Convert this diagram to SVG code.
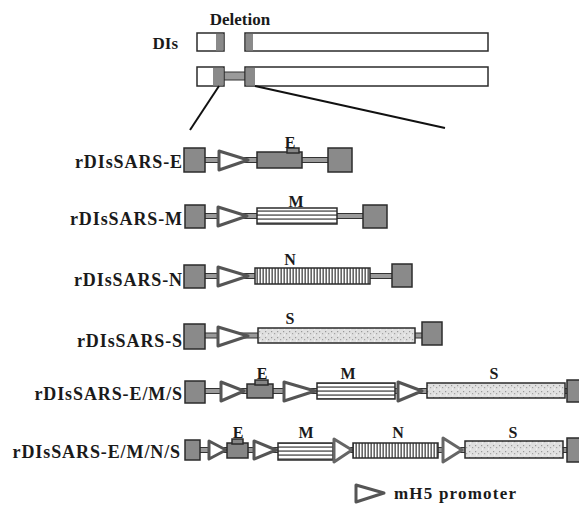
<svg xmlns="http://www.w3.org/2000/svg" width="579" height="514" viewBox="0 0 579 514">
<style>
text{font-family:"Liberation Serif","Times New Roman",serif;font-weight:bold;fill:#1a1a1a}
.lbl{font-size:18px;text-anchor:end;letter-spacing:0.9px}
.gl{font-size:16px;text-anchor:middle}
.dk{fill:#8a8a8a;stroke:#2b2b2b;stroke-width:1.5}
.wh{fill:#fff;stroke:#2b2b2b;stroke-width:1.5}
.ln{fill:#9a9a9a;stroke:#333;stroke-width:1}
.pr{fill:#fff;stroke:#555;stroke-width:3;stroke-linejoin:round}
.mb{fill:url(#hs);stroke:#2b2b2b;stroke-width:1.5}
.nb{fill:url(#vs);stroke:#2b2b2b;stroke-width:1.5}
.sb{fill:url(#sp);stroke:#2b2b2b;stroke-width:1.5}
.eb{fill:#868686;stroke:#2b2b2b;stroke-width:1.5}
</style>
<defs>
<pattern id="hs" width="6" height="4" patternUnits="userSpaceOnUse"><rect width="6" height="4" fill="#fff"/><rect y="2.2" width="6" height="1.8" fill="#7a7a7a"/></pattern>
<pattern id="vs" width="3" height="6" patternUnits="userSpaceOnUse"><rect width="3" height="6" fill="#fff"/><rect x="1.4" width="1.6" height="6" fill="#666"/></pattern>
<pattern id="sp" width="6" height="6" patternUnits="userSpaceOnUse"><rect width="6" height="6" fill="#e0e0e0"/><rect x="1" y="1" width="1.2" height="1.2" fill="#999"/><rect x="4" y="3" width="1.2" height="1.2" fill="#a5a5a5"/><rect x="2" y="4.5" width="1" height="1" fill="#fff"/></pattern>
</defs>

<g id="top">
<text x="240" y="25" style="font-size:17px;text-anchor:middle">Deletion</text>
<text x="178" y="49" style="font-size:17px;text-anchor:end">DIs</text>
<g id="dis1">
<rect class="wh" x="197" y="33" width="27" height="18"/>
<rect x="216" y="34" width="7.5" height="16.5" fill="#8a8a8a"/>
<rect class="wh" x="245" y="33" width="243" height="18"/>
<rect x="246" y="34" width="7" height="16.5" fill="#8a8a8a"/>
</g>
<g id="dis2">
<rect class="ln" x="223" y="72" width="23" height="8"/>
<rect class="wh" x="197" y="67" width="27" height="19"/>
<rect x="213" y="68" width="10.5" height="17.5" fill="#8a8a8a"/>
<rect class="wh" x="245" y="67" width="243" height="19"/>
<rect x="246" y="68" width="9" height="17.5" fill="#8a8a8a"/>
</g>
</g>

<g id="connectors" stroke="#111" stroke-width="2">
<line x1="219" y1="86" x2="190" y2="130"/>
<line x1="255" y1="86" x2="445" y2="128"/>
</g>

<g id="rowE">
<text class="lbl" x="183" y="168">rDIsSARS-E</text>
<rect class="ln" x="204" y="157.5" width="126" height="5"/>
<rect class="dk" x="184" y="148" width="21" height="24"/>
<polygon class="pr" points="219,151 248,160 219,170"/>
<rect class="eb" x="257" y="152" width="45" height="16"/>
<rect class="eb" x="287" y="148" width="12" height="5"/>
<rect class="dk" x="328" y="148" width="24" height="24"/>
<text class="gl" x="290" y="148">E</text>
</g>

<g id="rowM">
<text class="lbl" x="183" y="225">rDIsSARS-M</text>
<rect class="ln" x="204" y="213.5" width="160" height="5"/>
<rect class="dk" x="185" y="205" width="20" height="23"/>
<polygon class="pr" points="218,207 247,216 218,226"/>
<rect class="mb" x="257" y="208" width="80" height="16"/>
<rect class="dk" x="363" y="205" width="24" height="23"/>
<text class="gl" x="296" y="207">M</text>
</g>

<g id="rowN">
<text class="lbl" x="183" y="286">rDIsSARS-N</text>
<rect class="ln" x="204" y="273.5" width="190" height="5"/>
<rect class="dk" x="184" y="265" width="21" height="23"/>
<polygon class="pr" points="218,267 248,276 218,286"/>
<rect class="nb" x="255" y="268" width="115" height="16"/>
<rect class="dk" x="392" y="264" width="20" height="23"/>
<text class="gl" x="290" y="265">N</text>
</g>

<g id="rowS">
<text class="lbl" x="183" y="347">rDIsSARS-S</text>
<rect class="ln" x="204" y="333" width="220" height="5"/>
<rect class="dk" x="184" y="324" width="21" height="25"/>
<polygon class="pr" points="218,327 248,336 218,346"/>
<rect class="sb" x="258" y="328" width="157" height="15"/>
<rect class="dk" x="422" y="322" width="20" height="23"/>
<text class="gl" x="290" y="324">S</text>
</g>

<g id="rowEMS">
<text class="lbl" x="183" y="400">rDIsSARS-E/M/S</text>
<rect class="ln" x="204" y="388.5" width="370" height="5"/>
<rect class="dk" x="185" y="381" width="20" height="22"/>
<polygon class="pr" points="221,382 244,391 221,401"/>
<rect class="eb" x="247" y="384" width="26" height="14"/>
<rect class="eb" x="255" y="380" width="13" height="5"/>
<polygon class="pr" points="284,382 315,391 284,401"/>
<rect class="mb" x="317" y="383" width="78" height="16"/>
<polygon class="pr" points="398,382 422,391 398,401"/>
<rect class="sb" x="427" y="383" width="138" height="15"/>
<rect class="dk" x="567" y="380" width="20" height="22"/>
<text class="gl" x="262" y="379">E</text>
<text class="gl" x="348" y="379">M</text>
<text class="gl" x="494" y="379">S</text>
</g>

<g id="rowEMNS">
<text class="lbl" x="181" y="458">rDIsSARS-E/M/N/S</text>
<rect class="ln" x="199" y="447.5" width="375" height="5"/>
<rect class="dk" x="185" y="440" width="15" height="20"/>
<polygon class="pr" points="209,441 226,450 209,459"/>
<rect class="eb" x="227" y="443" width="21" height="15"/>
<rect class="eb" x="232" y="439" width="11" height="5"/>
<polygon class="pr" points="254,441 276,450 254,459"/>
<rect class="mb" x="278" y="443" width="55" height="17"/>
<polygon class="pr" points="334,439 352,450 334,462" style="stroke:#666"/>
<rect class="nb" x="353" y="443" width="85" height="15"/>
<polygon class="pr" points="443,438 462,450 443,462" style="stroke:#666"/>
<rect class="sb" x="465" y="441" width="98" height="17"/>
<rect class="dk" x="567" y="438" width="15" height="24"/>
<text class="gl" x="238" y="438">E</text>
<text class="gl" x="306" y="438">M</text>
<text class="gl" x="398" y="438">N</text>
<text class="gl" x="513" y="438">S</text>
</g>

<g id="legend">
<polygon class="pr" points="356,485 384,493 356,502"/>
<text x="394" y="499" style="font-size:17px;letter-spacing:1.2px">mH5 promoter</text>
</g>
</svg>
